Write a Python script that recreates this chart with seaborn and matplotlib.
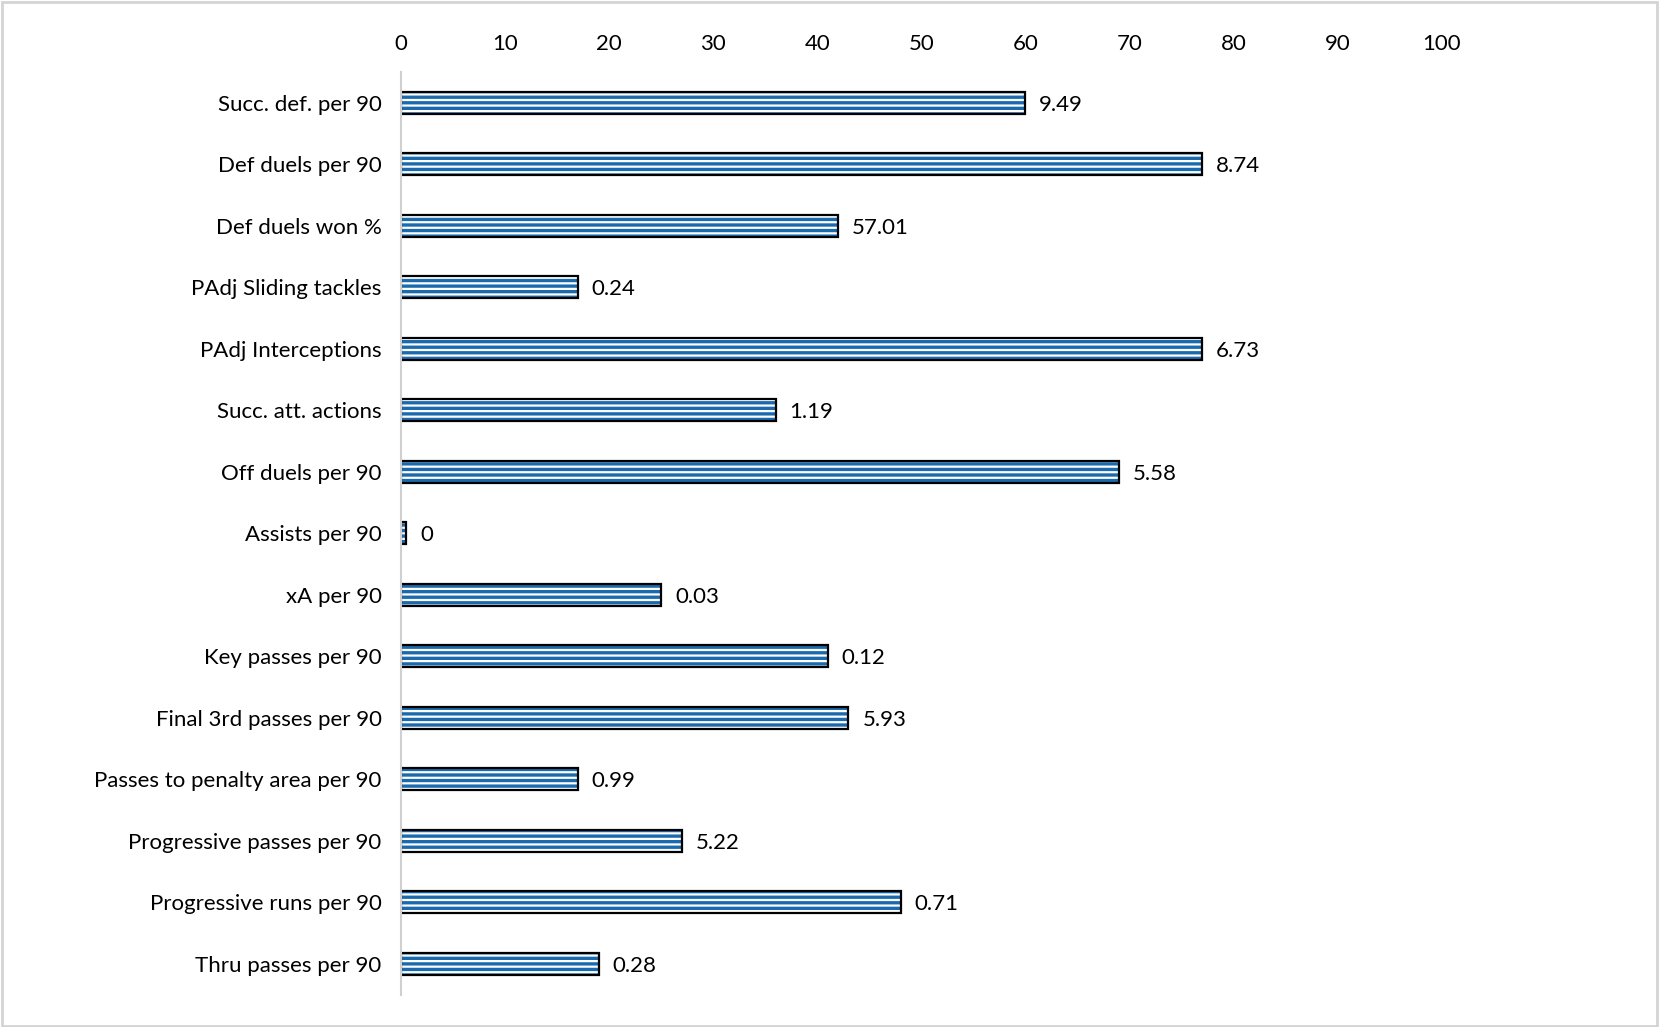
import matplotlib
matplotlib.use('Agg')
import matplotlib.pyplot as plt
import seaborn as sns
import pandas as pd
from matplotlib.patches import Rectangle

# ── data ──
metrics = ['Succ. def. per 90', 'Def duels per 90', 'Def duels won %',
           'PAdj Sliding tackles', 'PAdj Interceptions', 'Succ. att. actions',
           'Off duels per 90', 'Assists per 90', 'xA per 90', 'Key passes per 90',
           'Final 3rd passes per 90', 'Passes to penalty area per 90',
           'Progressive passes per 90', 'Progressive runs per 90', 'Thru passes per 90']
percentiles = [60, 77, 42, 17, 77, 36, 69, 0.5, 25, 41, 43, 17, 27, 48, 19]
raw_values = ['9.49', '8.74', '57.01', '0.24', '6.73', '1.19', '5.58', '0',
              '0.03', '0.12', '5.93', '0.99', '5.22', '0.71', '0.28']
x_ticks = [0, 10, 20, 30, 40, 50, 60, 70, 80, 90, 100]

df = pd.DataFrame({'metric': metrics, 'pct': percentiles, 'raw': raw_values})

sns.set_theme(style='white')
plt.rcParams['font.family'] = ['Lato', 'DejaVu Sans']
plt.rcParams['hatch.linewidth'] = 2.4

fig = plt.figure(figsize=(16.59, 10.27), dpi=100)
ax = fig.add_axes([0.2417, 0.0316, 0.869 - 0.2417, 0.930 - 0.0316])

# striped fill (hatch takes edge colour, so outline drawn separately)
sns.barplot(data=df, x='pct', y='metric', ax=ax, orient='h', width=0.36,
            color='white', edgecolor='#1a6aad', linewidth=0)
for p in ax.patches:
    p.set_hatch('---')
    p.set_facecolor('white')
    p.set_edgecolor('#1a6aad')
    p.set_linewidth(0)

# black outline
sns.barplot(data=df, x='pct', y='metric', ax=ax, orient='h', width=0.36,
            fill=False, edgecolor='black', linewidth=1.6)

# value labels
for i, row in df.iterrows():
    ax.annotate(row['raw'], xy=(row['pct'], i), xytext=(10, 0),
                textcoords='offset points', va='center_baseline', ha='left',
                fontsize=16, color='black')

ax.set_xlim(0, 100)
ax.set_xticks(x_ticks)
ax.xaxis.tick_top()
ax.tick_params(axis='x', length=0, pad=13, labelsize=16, colors='black')
ax.tick_params(axis='y', length=0, pad=14, labelsize=16, colors='black')
for lbl in ax.get_yticklabels():
    lbl.set_verticalalignment('center_baseline')
ax.set_xlabel('')
ax.set_ylabel('')

for s in ['top', 'right', 'bottom']:
    ax.spines[s].set_visible(False)
ax.spines['left'].set_color('#d0d0d0')
ax.spines['left'].set_linewidth(1.5)

# light frame around the figure
fig.patches.append(Rectangle((0.001, 0.001), 0.998, 0.997, transform=fig.transFigure,
                             fill=False, edgecolor='#d4d4d4', linewidth=2))

fig.savefig('out.png', dpi=100)
